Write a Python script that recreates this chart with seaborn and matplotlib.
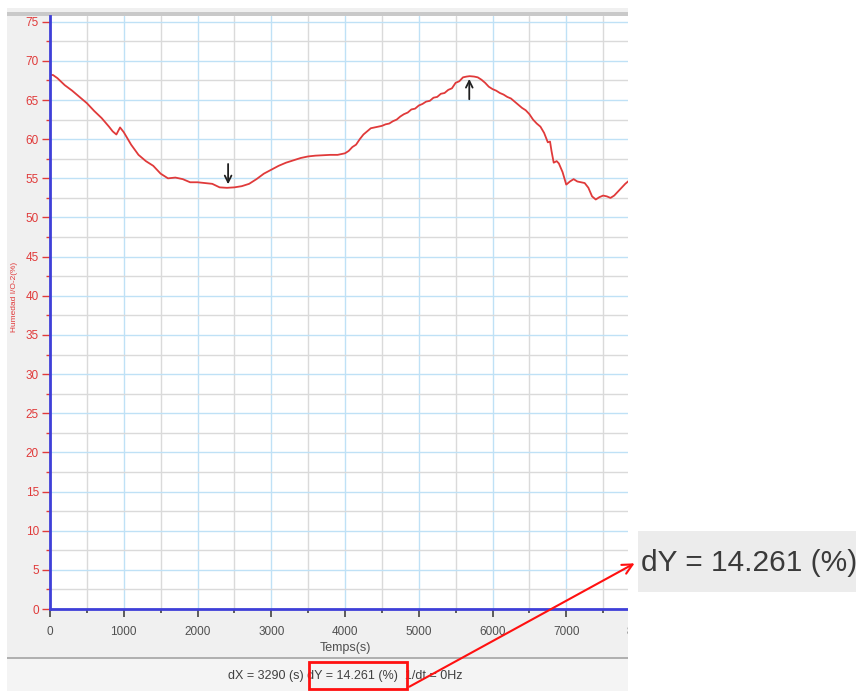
import numpy as np
import pandas as pd
import seaborn as sns
import matplotlib
matplotlib.use("Agg")
import matplotlib.pyplot as plt
from matplotlib.patches import Rectangle, FancyArrowPatch
from matplotlib.ticker import MultipleLocator

# Humidity log (sensor I/O-2) over time
temps_s = [0, 40, 100, 200, 300, 400, 500, 600, 700, 800, 850, 900, 950,
           1000, 1100, 1200, 1300, 1400, 1500, 1600, 1700, 1800, 1900, 2000,
           2100, 2200, 2300, 2400, 2500, 2600, 2700, 2800, 2900, 3000, 3100,
           3200, 3300, 3400, 3500, 3600, 3700, 3800, 3900, 4000, 4050, 4100,
           4150, 4200, 4250, 4300, 4350, 4400, 4450, 4500, 4550, 4600, 4650,
           4700, 4750, 4800, 4850, 4900, 4950, 5000, 5050, 5100, 5150, 5200,
           5250, 5300, 5350, 5400, 5450, 5500, 5550, 5600, 5650, 5690, 5750,
           5800, 5850, 5900, 5950, 6000, 6050, 6100, 6150, 6200, 6250, 6300,
           6350, 6400, 6450, 6500, 6550, 6600, 6650, 6700, 6750, 6780, 6800,
           6830, 6870, 6900, 6950, 7000, 7050, 7100, 7150, 7200, 7250, 7300,
           7350, 7400, 7450, 7500, 7550, 7600, 7650, 7700, 7750, 7800, 7850]
humedad = [68.2, 68.2, 67.8, 66.9, 66.2, 65.4, 64.6, 63.6, 62.7, 61.6, 61.0,
           60.6, 61.5, 60.9, 59.3, 58.0, 57.2, 56.6, 55.6, 55.0, 55.1, 54.9,
           54.5, 54.5, 54.4, 54.3, 53.85, 53.79, 53.85, 54.0, 54.3, 54.9, 55.6,
           56.1, 56.6, 57.0, 57.3, 57.6, 57.8, 57.9, 57.95, 58.0, 58.0, 58.2,
           58.5, 59.0, 59.3, 60.0, 60.6, 61.0, 61.4, 61.5, 61.6, 61.7, 61.9,
           62.0, 62.3, 62.5, 62.9, 63.2, 63.4, 63.8, 63.9, 64.3, 64.5, 64.8,
           64.9, 65.3, 65.4, 65.8, 65.9, 66.3, 66.5, 67.2, 67.4, 67.9, 68.0,
           68.051, 68.0, 67.9, 67.6, 67.2, 66.7, 66.4, 66.2, 65.9, 65.7, 65.4,
           65.2, 64.8, 64.4, 64.0, 63.7, 63.2, 62.5, 62.0, 61.6, 60.8, 59.6,
           59.7, 58.5, 57.0, 57.2, 56.9, 55.8, 54.2, 54.6, 54.9, 54.6, 54.5,
           54.4, 53.8, 52.7, 52.3, 52.6, 52.8, 52.7, 52.5, 52.8, 53.3, 53.8,
           54.3, 54.7]

# Cursor positions (s)
cursor_a = 2400
cursor_b = 5690
x_ticks = [0, 1000, 2000, 3000, 4000, 5000, 6000, 7000, 8000]
y_ticks = list(range(0, 80, 5))

df = pd.DataFrame({"Temps(s)": temps_s, "Humedad": humedad})
ya = df.loc[df["Temps(s)"] == cursor_a, "Humedad"].iloc[0]
yb = df.loc[df["Temps(s)"] == cursor_b, "Humedad"].iloc[0]
dx = cursor_b - cursor_a
dy = yb - ya

sns.set_style("white")
plt.rcParams["font.family"] = ["Liberation Sans", "DejaVu Sans"]

W, H = 856, 691
fig = plt.figure(figsize=(W / 100, H / 100), dpi=100)
fig.patch.set_facecolor("white")


def fx(px):
    return px / W


def fy(py):
    return 1 - py / H


def frect(x0, y0, x1, y1, **kw):
    r = Rectangle((fx(x0), fy(y1)), (x1 - x0) / W, (y1 - y0) / H,
                  transform=fig.transFigure, **kw)
    fig.patches.append(r)
    return r


# window panel
frect(7, 8, 628, 691, facecolor="#f0f0f0", edgecolor="none", zorder=-5)
frect(7, 12, 628, 16, facecolor="#c9c9c9", edgecolor="none", zorder=-4)
frect(7, 657, 628, 659, facecolor="#b0b0b0", edgecolor="none", zorder=-4)
frect(7, 659, 628, 691, facecolor="#f4f4f4", edgecolor="none", zorder=-4)

ax = fig.add_axes([fx(50), fy(609), (640 - 50) / W, (609 - 16) / H])
ax.set_facecolor("white")
ax.set_zorder(1)

red = "#e03a3a"
blue_grid = "#bfe1f6"
gray_grid = "#dadada"
spine_blue = "#3f3fd8"
tick_gray = "#505050"

ax.set_xlim(0, 8000)
ax.set_ylim(0, (609 - 16) / 7.83)
ax.xaxis.set_major_locator(MultipleLocator(1000))
ax.xaxis.set_minor_locator(MultipleLocator(500))
ax.yaxis.set_major_locator(MultipleLocator(5))
ax.yaxis.set_minor_locator(MultipleLocator(2.5))
ax.set_xticks(x_ticks)
ax.set_yticks(y_ticks)
ax.set_yticklabels([str(v) for v in y_ticks])

ax.grid(True, which="major", color=blue_grid, lw=1.0)
ax.grid(True, which="minor", color=gray_grid, lw=1.0)
ax.set_axisbelow(True)

sns.lineplot(data=df, x="Temps(s)", y="Humedad", ax=ax, color=red, lw=1.3)

for side in ("top", "right"):
    ax.spines[side].set_visible(False)
for side in ("left", "bottom"):
    ax.spines[side].set_color(spine_blue)
    ax.spines[side].set_linewidth(2)
    ax.spines[side].set_zorder(3)

ax.tick_params(axis="y", which="major", direction="out", length=6, width=1,
               color=red, labelcolor=red, labelsize=8.5, pad=2)
ax.tick_params(axis="y", which="minor", direction="out", length=3, width=1,
               color=red)
ax.tick_params(axis="x", which="major", direction="out", length=6, width=1.3,
               color=tick_gray, labelcolor=tick_gray, labelsize=8.5, pad=6)
ax.tick_params(axis="x", which="minor", direction="out", length=3, width=1.3,
               color=tick_gray)
ax.tick_params(left=True, bottom=True, which="both")

ax.set_xlabel("Temps(s)", fontsize=9, color=tick_gray, labelpad=3)
ax.set_ylabel("Humedad I/O-2(%)", fontsize=6, color=red)
ax.yaxis.set_label_coords((18 - 50) / 590, (609 - 297) / 593)

# cursor markers
ax.annotate("", xy=(cursor_a + 15, ya + 0.1), xytext=(cursor_a + 15, ya + 3.4),
            arrowprops=dict(arrowstyle="->", color="#202020", lw=1.3,
                            mutation_scale=12))
ax.annotate("", xy=(cursor_b - 5, yb), xytext=(cursor_b - 5, yb - 3.3),
            arrowprops=dict(arrowstyle="->", color="#202020", lw=1.3,
                            mutation_scale=12))

# area beyond the window
frect(628, 0, 856, 691, facecolor="white", edgecolor="none", zorder=5)
frect(0, 0, 7, 691, facecolor="white", edgecolor="none", zorder=5)

# status bar
status = f"dX = {dx} (s) dY = {dy:.3f} (%)  1/dt = 0Hz"
fig.text(fx(345), fy(676), status, ha="center", va="center", fontsize=9,
         color="#404040", zorder=6)
frect(309, 662, 407, 689, facecolor="none", edgecolor="#ff1010", lw=2,
      zorder=7)

# magnified readout
frect(638, 531, 856, 592, facecolor="#ececec", edgecolor="none", zorder=6)
fig.text(fx(641), fy(563), f"dY = {dy:.3f} (%)", ha="left", va="center",
         fontsize=21.5, color="#3a3a3a", zorder=7)

arr = FancyArrowPatch((fx(407), fy(688)), (fx(637), fy(562)),
                      transform=fig.transFigure, arrowstyle="->",
                      mutation_scale=18, color="#ff1010", lw=1.5, zorder=8)
fig.patches.append(arr)

fig.savefig("out.png", dpi=100)
